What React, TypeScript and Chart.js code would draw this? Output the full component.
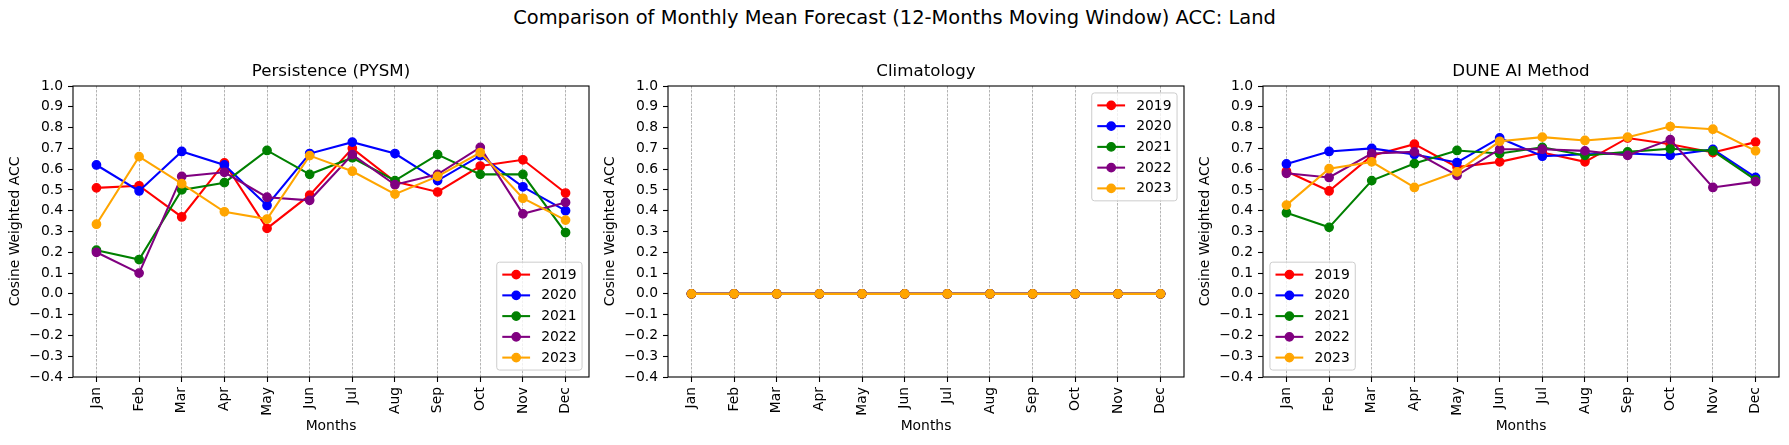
import React, { useEffect, useRef } from "react";
import { Chart, registerables } from "chart.js";

Chart.register(...registerables);

const FONT = "'DejaVu Sans', 'Liberation Sans', sans-serif";

const SUPTITLE = "Comparison of Monthly Mean Forecast (12-Months Moving Window) ACC: Land";
const MONTHS = ["Jan", "Feb", "Mar", "Apr", "May", "Jun", "Jul", "Aug", "Sep", "Oct", "Nov", "Dec"];
const YEARS = ["2019", "2020", "2021", "2022", "2023"];
const COLORS = ["#ff0000", "#0000ff", "#008000", "#800080", "#ffa500"];
const Y_TICKS = [-0.4, -0.3, -0.2, -0.1, 0.0, 0.1, 0.2, 0.3, 0.4, 0.5, 0.6, 0.7, 0.8, 0.9, 1.0];

// Persistence (PYSM)
const PERS_2019 = [0.51, 0.52, 0.37, 0.63, 0.315, 0.475, 0.7, 0.54, 0.49, 0.615, 0.645, 0.485];
const PERS_2020 = [0.62, 0.495, 0.685, 0.62, 0.425, 0.675, 0.73, 0.675, 0.545, 0.665, 0.515, 0.4];
const PERS_2021 = [0.21, 0.165, 0.5, 0.535, 0.69, 0.575, 0.655, 0.545, 0.67, 0.575, 0.575, 0.295];
const PERS_2022 = [0.2, 0.1, 0.565, 0.585, 0.465, 0.45, 0.67, 0.525, 0.575, 0.705, 0.385, 0.44];
const PERS_2023 = [0.335, 0.66, 0.53, 0.395, 0.36, 0.665, 0.59, 0.48, 0.565, 0.68, 0.46, 0.355];

// Climatology
const CLIM_2019 = [0, 0, 0, 0, 0, 0, 0, 0, 0, 0, 0, 0];
const CLIM_2020 = [0, 0, 0, 0, 0, 0, 0, 0, 0, 0, 0, 0];
const CLIM_2021 = [0, 0, 0, 0, 0, 0, 0, 0, 0, 0, 0, 0];
const CLIM_2022 = [0, 0, 0, 0, 0, 0, 0, 0, 0, 0, 0, 0];
const CLIM_2023 = [0, 0, 0, 0, 0, 0, 0, 0, 0, 0, 0, 0];

// DUNE AI Method
const DUNE_2019 = [0.59, 0.495, 0.665, 0.72, 0.61, 0.635, 0.68, 0.635, 0.75, 0.72, 0.68, 0.73];
const DUNE_2020 = [0.625, 0.685, 0.7, 0.67, 0.632, 0.75, 0.662, 0.672, 0.675, 0.667, 0.695, 0.56];
const DUNE_2021 = [0.39, 0.32, 0.545, 0.627, 0.69, 0.675, 0.705, 0.666, 0.683, 0.698, 0.688, 0.548];
const DUNE_2022 = [0.58, 0.56, 0.675, 0.683, 0.57, 0.696, 0.696, 0.688, 0.666, 0.742, 0.512, 0.54];
const DUNE_2023 = [0.427, 0.602, 0.635, 0.512, 0.587, 0.734, 0.754, 0.738, 0.754, 0.805, 0.792, 0.688];

type Corner = "lower right" | "upper right" | "lower left";

const PANELS: { title: string; series: number[][]; corner: Corner }[] = [
  { title: "Persistence (PYSM)", series: [PERS_2019, PERS_2020, PERS_2021, PERS_2022, PERS_2023], corner: "lower right" },
  { title: "Climatology", series: [CLIM_2019, CLIM_2020, CLIM_2021, CLIM_2022, CLIM_2023], corner: "upper right" },
  { title: "DUNE AI Method", series: [DUNE_2019, DUNE_2020, DUNE_2021, DUNE_2022, DUNE_2023], corner: "lower left" },
];

const PX10 = 13.89; // 10pt at 100 dpi
const PX12 = 16.67;
const PX14 = 19.44;
const LINE_W = 2.08;
const MARKER_R = 4.17;
const MARKER_EDGE = 1.39;

const CANVAS_W = 595;
const CANVAS_H = 445;

function fmtY(v: number): string {
  if (Math.abs(v) < 1e-9) return "0.0";
  const s = v.toFixed(1);
  return s.startsWith("-") ? "\u2212" + s.slice(1) : s;
}

function makeDecorPlugin(corner: Corner) {
  return {
    id: "mplDecor",
    afterDatasetsDraw(chart: any) {
      const { ctx, chartArea: a } = chart;
      ctx.save();
      // axes frame (spines)
      ctx.strokeStyle = "#000";
      ctx.lineWidth = 1.1;
      ctx.setLineDash([]);
      ctx.strokeRect(a.left, a.top, a.right - a.left, a.bottom - a.top);

      // legend (matplotlib style)
      const fs = PX10;
      const borderPad = 0.4 * fs;
      const labelSpacing = 0.5 * fs;
      const handleLen = 2.0 * fs;
      const handlePad = 0.8 * fs;
      const axesPad = 0.5 * fs;
      const rowH = 13.8;
      ctx.font = `${fs}px ${FONT}`;
      let textW = 0;
      YEARS.forEach((y) => {
        textW = Math.max(textW, ctx.measureText(y).width);
      });
      const n = YEARS.length;
      const boxW = 2 * borderPad + handleLen + handlePad + textW;
      const boxH = 2 * borderPad + n * rowH + (n - 1) * labelSpacing;
      let left = a.left + axesPad;
      let top = a.top + axesPad;
      if (corner === "lower right" || corner === "upper right") left = a.right - axesPad - boxW;
      if (corner === "lower right" || corner === "lower left") top = a.bottom - axesPad - boxH;

      ctx.beginPath();
      ctx.roundRect(left, top, boxW, boxH, 2.8);
      ctx.fillStyle = "rgba(255,255,255,0.8)";
      ctx.fill();
      ctx.strokeStyle = "#cccccc";
      ctx.lineWidth = 1;
      ctx.stroke();

      YEARS.forEach((y, i) => {
        const cy = top + borderPad + rowH / 2 + i * (rowH + labelSpacing);
        const x0 = left + borderPad;
        ctx.strokeStyle = COLORS[i];
        ctx.lineWidth = LINE_W;
        ctx.beginPath();
        ctx.moveTo(x0, cy);
        ctx.lineTo(x0 + handleLen, cy);
        ctx.stroke();
        ctx.fillStyle = COLORS[i];
        ctx.lineWidth = MARKER_EDGE;
        ctx.beginPath();
        ctx.arc(x0 + handleLen / 2, cy, MARKER_R, 0, Math.PI * 2);
        ctx.fill();
        ctx.stroke();
        ctx.fillStyle = "#000";
        ctx.textAlign = "left";
        ctx.textBaseline = "middle";
        ctx.fillText(y, x0 + handleLen + handlePad, cy + 0.5);
      });
      ctx.restore();
    },
  };
}

function Panel({ title, series, corner, left }: { title: string; series: number[][]; corner: Corner; left: number }) {
  const ref = useRef<HTMLCanvasElement | null>(null);

  useEffect(() => {
    if (!ref.current) return;
    const datasets = YEARS.map((year, i) => ({
      label: year,
      data: series[i].map((v, j) => ({ x: j, y: v })),
      borderColor: COLORS[i],
      backgroundColor: COLORS[i],
      pointBackgroundColor: COLORS[i],
      pointBorderColor: COLORS[i],
      borderWidth: LINE_W,
      pointRadius: MARKER_R,
      pointBorderWidth: MARKER_EDGE,
      pointHoverRadius: MARKER_R,
      tension: 0,
      fill: false,
      order: YEARS.length - i,
    }));

    const chart = new Chart(ref.current, {
      type: "line",
      data: { datasets },
      options: {
        animation: false,
        responsive: false,
        events: [],
        layout: { padding: { left: 0, right: 6, top: 0, bottom: 0 } },
        plugins: {
          legend: { display: false },
          tooltip: { enabled: false },
          title: {
            display: true,
            text: title,
            fullSize: false,
            color: "#000",
            font: { family: FONT, size: PX12, weight: "normal", lineHeight: 1.2 },
            padding: { top: 62, bottom: 4 },
          },
        },
        scales: {
          x: {
            type: "linear",
            min: -0.55,
            max: 11.55,
            afterBuildTicks: (s: any) => {
              s.ticks = MONTHS.map((_, i) => ({ value: i }));
            },
            afterFit: (s: any) => {
              s.height = 68;
            },
            ticks: {
              autoSkip: false,
              minRotation: 90,
              maxRotation: 90,
              padding: 5,
              color: "#000",
              font: { family: FONT, size: PX10 },
              callback: (v: any) => MONTHS[Math.round(Number(v))] ?? "",
            },
            grid: {
              display: true,
              drawOnChartArea: true,
              drawTicks: true,
              color: "rgba(128,128,128,0.85)",
              lineWidth: 0.7,
              tickLength: 5,
              tickColor: "#000",
              tickWidth: 1.1,
            },
            border: { display: false, dash: [2.6, 1.3] },
            title: {
              display: true,
              text: "Months",
              color: "#000",
              font: { family: FONT, size: PX10, lineHeight: 1.2 },
              padding: { top: 0, bottom: 10 },
            },
          },
          y: {
            type: "linear",
            min: -0.4,
            max: 1.0,
            afterBuildTicks: (s: any) => {
              s.ticks = Y_TICKS.map((v) => ({ value: v }));
            },
            afterFit: (s: any) => {
              s.width = 73;
            },
            ticks: {
              padding: 5,
              color: "#000",
              font: { family: FONT, size: PX10 },
              callback: (v: any) => fmtY(Number(v)),
            },
            grid: {
              display: true,
              drawOnChartArea: false,
              drawTicks: true,
              tickLength: 5,
              tickColor: "#000",
              tickWidth: 1.1,
            },
            border: { display: false },
            title: {
              display: true,
              text: "Cosine Weighted ACC",
              color: "#000",
              font: { family: FONT, size: PX10, lineHeight: 1.2 },
              padding: { top: 7, bottom: 0 },
            },
          },
        },
      } as any,
      plugins: [makeDecorPlugin(corner)],
    });
    return () => chart.destroy();
  }, [title, series, corner]);

  return (
    <canvas
      ref={ref}
      width={CANVAS_W}
      height={CANVAS_H}
      style={{ position: "absolute", left, top: 0, width: CANVAS_W, height: CANVAS_H }}
    />
  );
}

export default function App() {
  return (
    <div
      style={{
        position: "fixed",
        left: 0,
        top: 0,
        width: 1789,
        height: 445,
        background: "#fff",
        overflow: "hidden",
      }}
    >
      <div
        style={{
          position: "absolute",
          left: 0,
          top: 6,
          width: 1789,
          textAlign: "center",
          fontFamily: FONT,
          fontSize: PX14,
          lineHeight: "24px",
          color: "#000",
          whiteSpace: "nowrap",
        }}
      >
        {SUPTITLE}
      </div>
      {PANELS.map((p, i) => (
        <Panel key={p.title} title={p.title} series={p.series} corner={p.corner} left={CANVAS_W * i} />
      ))}
    </div>
  );
}
